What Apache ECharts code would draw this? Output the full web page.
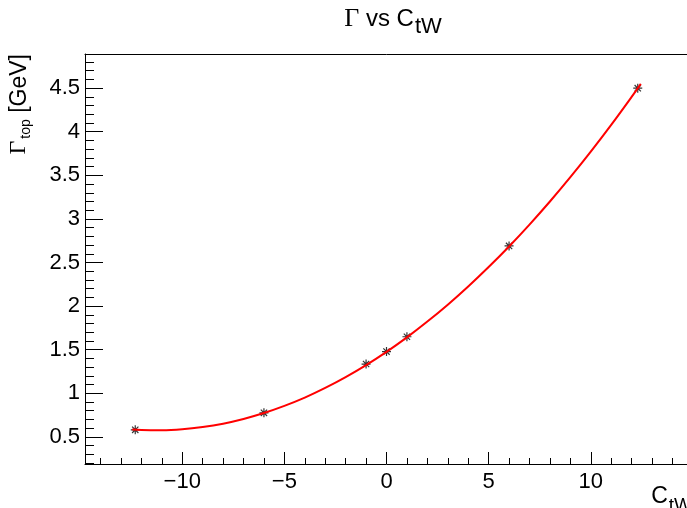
<!DOCTYPE html>
<html><head><meta charset="utf-8">
<script src="https://cdn.jsdelivr.net/npm/echarts@6/dist/echarts.min.js"></script>
<style>html,body{margin:0;padding:0;background:#fff;overflow:hidden}#c{position:absolute;left:0;top:0;width:687px;height:508px}</style>
</head><body><div id="c"></div>
<script>
// measured points (C_tW, Gamma_top)
const pointsX = [-12.3, -6.0, -1.0, 0.0, 1.0, 6.0, 12.3];
const pointsY = [0.58, 0.775, 1.335, 1.478, 1.648, 2.69, 4.50];
// fitted curve
const curveX = [-12.45, -12, -11, -10, -9, -8, -7, -6, -5, -4, -3, -2, -1, 0, 1, 2, 3, 4, 5, 6, 7, 8, 9, 10, 11, 12, 12.45];
const curveY = [0.583, 0.577, 0.575, 0.586, 0.612, 0.651, 0.705, 0.773, 0.855, 0.950, 1.061, 1.185, 1.323, 1.475, 1.641, 1.822, 2.016, 2.225, 2.448, 2.684, 2.935, 3.200, 3.479, 3.772, 4.079, 4.400, 4.550];
// axes
const xRange = [-14.76, 14.76];
const yRange = [0.188, 4.892];
const xMajorTicks = [-10, -5, 0, 5, 10];
const xMinorTicks = [-14,-13,-12,-11,-10,-9,-8,-7,-6,-5,-4,-3,-2,-1,0,1,2,3,4,5,6,7,8,9,10,11,12,13,14];
const yMajorTicks = [0.5, 1, 1.5, 2, 2.5, 3, 3.5, 4, 4.5];
const yMinorTicks = [0.2,0.3,0.4,0.5,0.6,0.7,0.8,0.9,1.0,1.1,1.2,1.3,1.4,1.5,1.6,1.7,1.8,1.9,2.0,2.1,2.2,2.3,2.4,2.5,2.6,2.7,2.8,2.9,3.0,3.1,3.2,3.3,3.4,3.5,3.6,3.7,3.8,3.9,4.0,4.1,4.2,4.3,4.4,4.5,4.6,4.7,4.8];

const SANS = 'Liberation Sans, Arial, Helvetica, sans-serif';
const SERIF = 'Liberation Serif, Times New Roman, serif';
const fmt = v => String(v).replace('-', '\u2212');

const chart = echarts.init(document.getElementById('c'), null, {renderer: 'canvas', width: 687, height: 508});
chart.setOption({
  animation: false,
  backgroundColor: '#fff',
  title: {
    text: '{g|\u0393}{n| vs C}{s|tW}',
    left: 388, top: 1, textAlign: 'center',
    textStyle: {
      fontWeight: 'normal',
      rich: {
        g: {fontFamily: SERIF, fontSize: 26, fontWeight: 'normal', color: '#000', verticalAlign: 'top'},
        n: {fontFamily: SANS, fontSize: 24, fontWeight: 'normal', color: '#000', verticalAlign: 'top', padding: [1,0,0,0]},
        s: {fontFamily: SANS, fontSize: 22, fontWeight: 'normal', color: '#000', verticalAlign: 'top', padding: [10,0,0,1]}
      }
    }
  },
  grid: {left: 85, top: 54, width: 603, height: 410, show: false,
         containLabel: false, outerBoundsMode: 'none'},
  xAxis: [{
    type: 'value', min: xRange[0], max: xRange[1], position: 'bottom',
    splitLine: {show: false},
    axisLine: {show: true, onZero: false, lineStyle: {color: '#000', width: 1}},
    axisTick: {show: true, inside: true, length: 12, customValues: xMajorTicks, lineStyle: {color: '#000', width: 1}},
    axisLabel: {show: true, customValues: xMajorTicks, formatter: fmt, margin: 7, fontFamily: SANS, fontSize: 22, color: '#000'},
    name: '{n|C}{s|tW}', nameLocation: 'end', nameGap: 4,
    nameTextStyle: {align: 'right', verticalAlign: 'top', padding: [21,0,0,0],
      rich: {
        n: {fontFamily: SANS, fontSize: 23, color: '#000', verticalAlign: 'top'},
        s: {fontFamily: SANS, fontSize: 19, color: '#000', verticalAlign: 'top', padding: [11,0,0,1]}
      }}
  }, {
    type: 'value', min: xRange[0], max: xRange[1], position: 'bottom',
    splitLine: {show: false}, axisLine: {show: false, onZero: false},
    axisLabel: {show: false},
    axisTick: {show: true, inside: true, length: 6, customValues: xMinorTicks, lineStyle: {color: '#000', width: 1}}
  }, {
    type: 'value', min: xRange[0], max: xRange[1], position: 'top',
    splitLine: {show: false},
    axisLine: {show: true, onZero: false, lineStyle: {color: '#000', width: 1}},
    axisTick: {show: false}, axisLabel: {show: false}
  }],
  yAxis: [{
    type: 'value', min: yRange[0], max: yRange[1], position: 'left',
    splitLine: {show: false},
    axisLine: {show: true, onZero: false, lineStyle: {color: '#000', width: 1}},
    axisTick: {show: true, inside: true, length: 18, customValues: yMajorTicks, lineStyle: {color: '#000', width: 1}},
    axisLabel: {show: true, customValues: yMajorTicks, formatter: fmt, margin: 5, fontFamily: SANS, fontSize: 22, color: '#000'}
  }, {
    type: 'value', min: yRange[0], max: yRange[1], position: 'left',
    splitLine: {show: false}, axisLine: {show: false, onZero: false},
    axisLabel: {show: false},
    axisTick: {show: true, inside: true, length: 9, customValues: yMinorTicks, lineStyle: {color: '#000', width: 1}}
  }],
  graphic: [{
    type: 'text', x: 7, y: 54, rotation: Math.PI / 2,
    style: {
      text: '{g|\u0393}{s|top}{n| [GeV]}',
      align: 'right', verticalAlign: 'top',
      rich: {
        g: {fontFamily: SERIF, fontSize: 24, fill: '#000', verticalAlign: 'top'},
        s: {fontFamily: SANS, fontSize: 14, fill: '#000', verticalAlign: 'top', padding: [12,0,0,2]},
        n: {fontFamily: SANS, fontSize: 23, fill: '#000', verticalAlign: 'top', padding: [1,0,0,0]}
      }
    }
  }],
  series: [{
    type: 'scatter', xAxisIndex: 0, yAxisIndex: 0,
    data: pointsX.map((x, i) => [x, pointsY[i]]),
    symbol: 'path://M0,5L10,5M5,0L5,10M1.5,1.5L8.5,8.5M8.5,1.5L1.5,8.5',
    symbolSize: 9,
    itemStyle: {color: 'rgba(0,0,0,0)', borderColor: '#000', borderWidth: 1.2},
    z: 2
  }, {
    type: 'line', xAxisIndex: 0, yAxisIndex: 0,
    data: curveX.map((x, i) => [x, curveY[i]]),
    smooth: 0.4, showSymbol: false, symbol: 'none',
    lineStyle: {color: '#ff0000', width: 2},
    z: 3
  }]
});
</script></body></html>
